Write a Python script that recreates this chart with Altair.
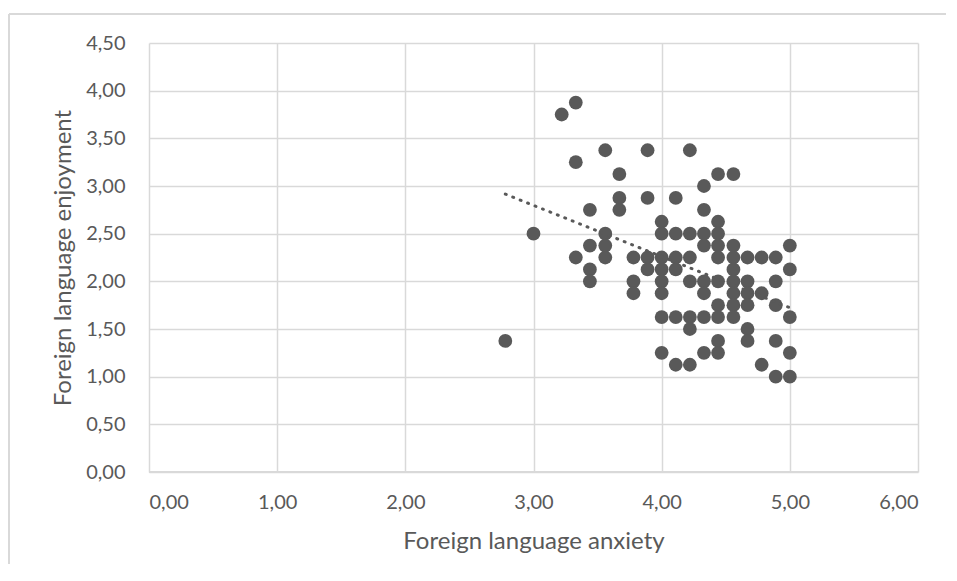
import altair as alt
import pandas as pd

# Foreign language anxiety (x) and enjoyment (y)
anxiety = [
    2.78, 3.00, 3.22, 3.33, 3.33, 3.33,
    3.44, 3.44, 3.44, 3.44,
    3.56, 3.56, 3.56, 3.56,
    3.67, 3.67, 3.67,
    3.78, 3.78, 3.78,
    3.89, 3.89, 3.89, 3.89,
    4.00, 4.00, 4.00, 4.00, 4.00, 4.00, 4.00, 4.00,
    4.11, 4.11, 4.11, 4.11, 4.11, 4.11,
    4.22, 4.22, 4.22, 4.22, 4.22, 4.22, 4.22,
    4.33, 4.33, 4.33, 4.33, 4.33, 4.33, 4.33, 4.33,
    4.44, 4.44, 4.44, 4.44, 4.44, 4.44, 4.44, 4.44, 4.44, 4.44,
    4.56, 4.56, 4.56, 4.56, 4.56, 4.56, 4.56, 4.56,
    4.67, 4.67, 4.67, 4.67, 4.67, 4.67,
    4.78, 4.78, 4.78,
    4.89, 4.89, 4.89, 4.89, 4.89,
    5.00, 5.00, 5.00, 5.00, 5.00,
]
enjoyment = [
    1.375, 2.50, 3.75, 3.875, 3.25, 2.25,
    2.75, 2.375, 2.125, 2.00,
    3.375, 2.50, 2.375, 2.25,
    3.125, 2.875, 2.75,
    2.25, 2.00, 1.875,
    3.375, 2.875, 2.25, 2.125,
    2.625, 2.50, 2.25, 2.125, 2.00, 1.875, 1.625, 1.25,
    2.875, 2.50, 2.25, 2.125, 1.625, 1.125,
    3.375, 2.50, 2.25, 2.00, 1.625, 1.50, 1.125,
    3.00, 2.75, 2.50, 2.375, 2.00, 1.875, 1.625, 1.25,
    3.125, 2.625, 2.50, 2.375, 2.25, 2.00, 1.75, 1.625, 1.375, 1.25,
    3.125, 2.375, 2.25, 2.125, 2.00, 1.875, 1.75, 1.625,
    2.25, 2.00, 1.875, 1.75, 1.50, 1.375,
    2.25, 1.875, 1.125,
    2.25, 2.00, 1.75, 1.375, 1.00,
    2.375, 2.125, 1.625, 1.25, 1.00,
]

df = pd.DataFrame({"anxiety": anxiety, "enjoyment": enjoyment})

GREY = "#595959"
GRID = "#d9d9d9"
FONT = "Lato"

label_fmt = "replace(format(datum.value, '.2f'), '.', ',')"

x_enc = alt.X(
    "anxiety:Q",
    title="Foreign language anxiety",
    scale=alt.Scale(domain=[0, 6], nice=False, zero=False),
    axis=alt.Axis(
        values=[0, 1, 2, 3, 4, 5, 6],
        labelExpr=label_fmt,
        grid=True,
        gridColor=GRID,
        gridWidth=1.5,
        domain=False,
        ticks=False,
        labelPadding=20,
        titlePadding=17,
    ),
)
y_enc = alt.Y(
    "enjoyment:Q",
    title="Foreign language enjoyment",
    scale=alt.Scale(domain=[0, 4.5], nice=False, zero=False),
    axis=alt.Axis(
        values=[0, 0.5, 1, 1.5, 2, 2.5, 3, 3.5, 4, 4.5],
        labelExpr=label_fmt,
        grid=True,
        gridColor=GRID,
        gridWidth=1.5,
        domain=False,
        ticks=False,
        labelPadding=24,
        titlePadding=10,
    ),
)

points = alt.Chart(df).mark_circle(size=190, color=GREY, opacity=1).encode(
    x=x_enc, y=y_enc
)

trend = (
    alt.Chart(df)
    .transform_regression("anxiety", "enjoyment")
    .mark_line(color=GREY, strokeWidth=3, strokeDash=[1, 7], strokeCap="round")
    .encode(x="anxiety:Q", y="enjoyment:Q")
)

baseline = alt.Chart(df).mark_rule(color=GRID, strokeWidth=1.5).encode(
    x=alt.value(0), x2=alt.value(769), y=alt.value(429)
)

frame_top = alt.Chart(df).mark_rule(color=GRID, strokeWidth=1.5).encode(
    x=alt.value(-140), x2=alt.value(900), y=alt.value(-29)
)
frame_left = alt.Chart(df).mark_rule(color=GRID, strokeWidth=1.5).encode(
    x=alt.value(-140), y=alt.value(-29), y2=alt.value(600)
)

chart = (
    alt.layer(frame_top, frame_left, baseline, points, trend)
    .properties(
        width=769,
        height=429,
        padding={"left": 141, "top": 35, "right": 28, "bottom": 92},
        autosize=alt.AutoSizeParams(type="none"),
        background="white",
    )
    .configure_view(stroke=None)
    .configure_axis(
        labelFont=FONT,
        titleFont=FONT,
        labelFontSize=20,
        titleFontSize=24,
        labelColor=GREY,
        titleColor=GREY,
        titleFontWeight="normal",
    )
)

chart.save("out.html", embed_options={"renderer": "svg", "actions": False})
